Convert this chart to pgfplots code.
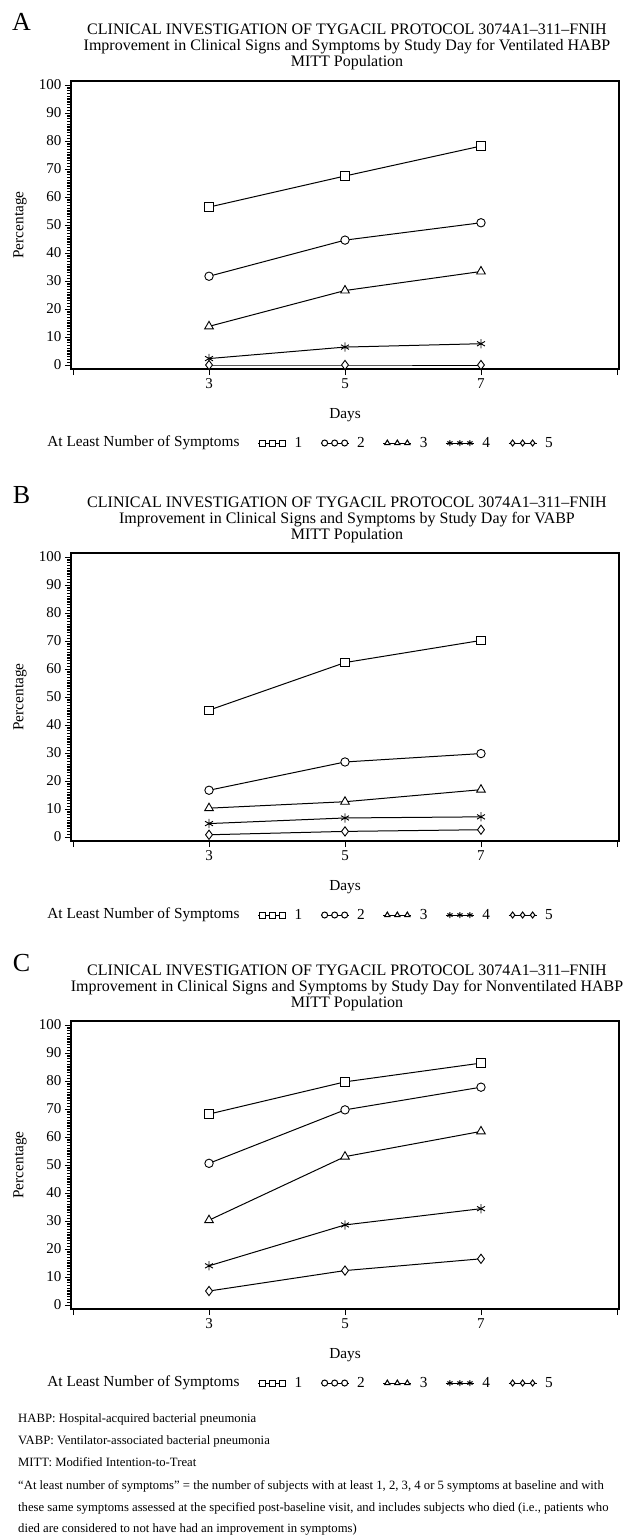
\documentclass[border=0pt]{standalone}
\usepackage{fontspec}
\setmainfont{Liberation Serif}
\usepackage{pgfplots}
\pgfplotsset{compat=1.18}

% one panel = one axis; the box is 548 x 288 px, 1 px = 1 pt
\pgfplotsset{
  panel/.style={
    scale only axis,
    width=548pt, height=288pt,
    anchor=north west,
    xmin=0.97, xmax=9.03,
    ymin=-1.43, ymax=101.43,
    xtick={1,3,5,7,9}, xticklabels={,3,5,7,},
    ytick={0,10,...,100},
    minor y tick num=9,
    tick align=outside, tick pos=left,
    major tick length=6pt, minor tick length=4pt,
    tick style={black, line width=0.9pt},
    minor tick style={black, line width=1.4pt},
    axis line style={line width=1.2pt},
    /pgf/number format/assume math mode=true,
    ticklabel style={font=\fontsize{15}{17}\selectfont},
    every axis plot/.append style={black, line width=1pt, mark options={solid, fill=white, line width=0.9pt}},
    legend columns=-1,
    legend style={at={(axis description cs:0.34,-0.257)}, anchor=west,
      draw=none, fill=none, inner sep=0pt,
      font=\fontsize{15.3}{17}\selectfont,
      nodes={inner sep=0pt},
      /tikz/every odd column/.append style={column sep=8pt},
      /tikz/every even column/.append style={column sep=18pt}},
    legend image code/.code={%
      \draw[#1, mark=none] (0pt,0pt) -- (28pt,0pt);
      \draw[#1, mark size=3pt, mark options={solid, fill=white, line width=1pt}] plot coordinates {(4pt,0pt) (14pt,0pt) (24pt,0pt)};
    },
  },
  s1/.style={mark=square*, mark size=4.2pt},
  s2/.style={mark=*, mark size=4.2pt},
  s3/.style={mark=triangle*, mark size=5pt},
  s4/.style={mark=asterisk, mark size=4.6pt},
  s5/.style={mark=diamond*, mark size=4.6pt},
}

\newcommand{\paneltext}[3]{%
  \begin{scope}[yshift=-#1pt]
    \node[anchor=base, font=\fontsize{26}{28}\selectfont] at (21.5pt,-31pt) {#2};
    \begin{scope}[every node/.style={anchor=base, font=\fontsize{16}{18}\selectfont}]
      \node at (347pt,-35pt) {CLINICAL INVESTIGATION OF TYGACIL PROTOCOL 3074A1–311–FNIH};
      \node at (347pt,-51pt) {Improvement in Clinical Signs and Symptoms by Study Day for #3};
      \node at (347pt,-67pt) {MITT Population};
    \end{scope}
    \node[rotate=90] at (20pt,-225pt) {Percentage};
    \node at (345pt,-415pt) {Days};
    \node[anchor=east] at (243pt,-443pt) {At Least Number of Symptoms};
  \end{scope}
}

\begin{document}
\begin{tikzpicture}[font=\fontsize{15.3}{17}\selectfont]
\useasboundingbox (0pt,0pt) rectangle (626pt,-1536pt);

\paneltext{0}{A}{Ventilated HABP}
\paneltext{472}{B}{VABP}
\paneltext{940}{C}{Nonventilated HABP}

% A: ventilated HABP
\begin{axis}[panel, at={(71pt,-81pt)}]
  \addplot[s1] coordinates {(3,56.4) (5,67.5) (7,78.2)};
  \addplot[s2] coordinates {(3,31.7) (5,44.6) (7,50.8)};
  \addplot[s3] coordinates {(3,13.8) (5,26.6) (7,33.4)};
  \addplot[s4] coordinates {(3,2.3) (5,6.4) (7,7.6)};
  \addplot[s5] coordinates {(3,0) (5,0) (7,0)};
  \legend{1,2,3,4,5}
\end{axis}

% B: VABP
\begin{axis}[panel, at={(71pt,-553pt)}]
  \addplot[s1] coordinates {(3,45.3) (5,62.3) (7,70.2)};
  \addplot[s2] coordinates {(3,16.7) (5,26.8) (7,29.8)};
  \addplot[s3] coordinates {(3,10.3) (5,12.6) (7,16.9)};
  \addplot[s4] coordinates {(3,4.8) (5,6.8) (7,7.2)};
  \addplot[s5] coordinates {(3,0.8) (5,2.0) (7,2.6)};
  \legend{1,2,3,4,5}
\end{axis}

% C: nonventilated HABP
\begin{axis}[panel, at={(71pt,-1021pt)}]
  \addplot[s1] coordinates {(3,68.2) (5,79.7) (7,86.4)};
  \addplot[s2] coordinates {(3,50.6) (5,69.7) (7,77.8)};
  \addplot[s3] coordinates {(3,30.3) (5,53.0) (7,62.0)};
  \addplot[s4] coordinates {(3,14.0) (5,28.6) (7,34.4)};
  \addplot[s5] coordinates {(3,5.0) (5,12.3) (7,16.5)};
  \legend{1,2,3,4,5}
\end{axis}

% footnotes
\begin{scope}[every node/.style={anchor=base west, inner sep=0pt, font=\fontsize{12.7}{14}\selectfont}]
  \node at (18pt,-1422pt) {HABP: Hospital-acquired bacterial pneumonia};
  \node at (18pt,-1444pt) {VABP: Ventilator-associated bacterial pneumonia};
  \node at (18pt,-1466pt) {MITT: Modified Intention-to-Treat};
  \node at (18pt,-1489pt) {“At least number of symptoms” = the number of subjects with at least 1, 2, 3, 4 or 5 symptoms at baseline and with};
  \node at (18pt,-1511pt) {these same symptoms assessed at the specified post-baseline visit, and includes subjects who died (i.e., patients who};
  \node at (18pt,-1532pt) {died are considered to not have had an improvement in symptoms)};
\end{scope}
\end{tikzpicture}
\end{document}
